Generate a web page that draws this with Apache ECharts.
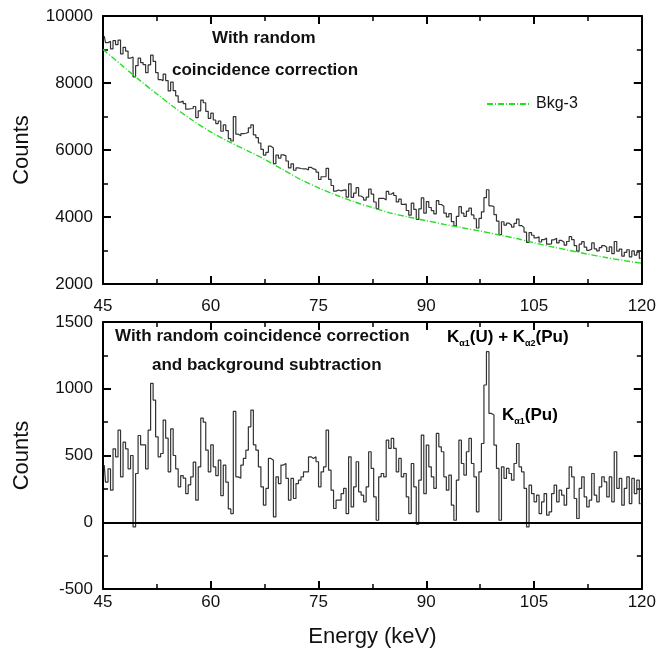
<!DOCTYPE html>
<html>
<head>
<meta charset="utf-8">
<script src="https://cdn.jsdelivr.net/npm/echarts@6/dist/echarts.min.js"></script>
<style>
html, body { margin: 0; padding: 0; background: #fff; }
#chart { width: 659px; height: 654px; }
</style>
</head>
<body>
<div id="chart"></div>
<script>
// spectrum channels, 45 - 120 keV
const eMin = 45
const eMax = 120

// top panel: with random coincidence correction
const rawCounts = [
  9397, 9206, 9243, 9020, 9267, 9145, 9282, 8869, 9066, 8954,
  8741, 8778, 8180, 8517, 8740, 8610, 8550, 8310, 8540, 8830,
  8645, 8310, 8103, 8071, 8264, 8072, 7763, 8028, 7770, 7616,
  7428, 7460, 7387, 7219, 7231, 7238, 7299, 6967, 7170, 7488,
  7411, 7154, 6945, 7100, 6895, 6790, 6865, 6560, 6748, 6580,
  6339, 6268, 6997, 6471, 6425, 6487, 6501, 6524, 6661, 6748,
  6450, 6372, 6209, 6021, 5848, 5931, 6114, 6059, 5592, 5850,
  5758, 5854, 5825, 5671, 5466, 5587, 5395, 5465, 5448, 5437,
  5440, 5405, 5482, 5435, 5412, 5340, 5120, 5202, 5208, 5452,
  5121, 4940, 4772, 4806, 4778, 4800, 4810, 4594, 4991, 4588,
  4712, 4876, 4627, 4578, 4504, 4592, 4831, 4683, 4448, 4251,
  4554, 4557, 4510, 4763, 4679, 4734, 4642, 4450, 4533, 4378,
  4386, 4194, 4055, 4415, 4225, 3930, 4245, 4568, 4115, 4461,
  4283, 4193, 4091, 4488, 4373, 4321, 4116, 4002, 4101, 3862,
  3735, 4021, 4307, 4118, 4017, 4178, 4264, 4062, 3948, 3672,
  3958, 4155, 4578, 4813, 4335, 4308, 4068, 3878, 3473, 3858,
  3756, 3816, 3763, 3698, 3808, 3938, 3745, 3690, 3547, 3241,
  3536, 3455, 3375, 3408, 3253, 3324, 3369, 3190, 3198, 3320,
  3368, 3228, 3300, 3248, 3158, 3268, 3413, 3323, 3146, 2981,
  3191, 3263, 3098, 3005, 3041, 3227, 3051, 2987, 3085, 3146,
  3095, 2970, 3107, 2907, 3269, 2981, 3043, 2830, 2946, 3022,
  2811, 2988, 2864, 2953, 2767
]

// bottom panel: after background subtraction
const netCounts = [
  428, 300, 400, 240, 550, 490, 690, 340, 600, 550,
  400, 500, -35, 365, 650, 580, 580, 400, 690, 1040,
  915, 640, 490, 515, 765, 630, 378, 700, 500, 400,
  265, 350, 330, 215, 280, 340, 450, 165, 415, 780,
  750, 540, 378, 580, 415, 350, 465, 200, 428, 300,
  100, 65, 830, 340, 330, 428, 478, 540, 715, 840,
  580, 540, 415, 265, 128, 253, 478, 465, 40, 340,
  290, 428, 440, 328, 165, 328, 178, 290, 315, 340,
  378, 378, 490, 478, 490, 453, 265, 378, 415, 690,
  390, 240, 103, 165, 165, 215, 253, 65, 490, 115,
  265, 453, 228, 203, 153, 265, 528, 403, 190, 15,
  340, 365, 340, 615, 553, 628, 553, 378, 478, 340,
  365, 190, 65, 440, 265, -15, 315, 653, 215, 578,
  415, 340, 253, 665, 565, 528, 340, 240, 353, 128,
  15, 315, 615, 440, 353, 528, 628, 440, 340, 78,
  378, 590, 1028, 1278, 815, 803, 578, 403, 15, 415,
  328, 403, 365, 315, 440, 590, 415, 378, 253, -35,
  278, 215, 153, 203, 65, 153, 215, 53, 78, 215,
  278, 153, 240, 203, 128, 253, 415, 340, 178, 28,
  253, 340, 190, 115, 165, 365, 203, 153, 265, 340,
  303, 190, 340, 153, 528, 253, 328, 128, 253, 340,
  140, 328, 215, 315, 140
]

// Bkg-3 curve
const bkgEnergy = [45, 47.5, 50, 52.5, 55, 57.5, 60, 62.5, 65, 67.5, 70, 72.5, 75, 77.5, 80,
  82.5, 85, 87.5, 90, 92.5, 95, 97.5, 100, 102.5, 105, 107.5, 110, 112.5, 115, 117.5, 120]
const bkgCounts = [9000, 8550, 8100, 7670, 7260, 6880, 6540, 6250, 5990, 5720, 5420, 5120, 4870, 4650, 4450,
  4280, 4120, 4000, 3890, 3780, 3680, 3580, 3470, 3360, 3230, 3110, 3000, 2890, 2790, 2700, 2620]

const xTicks = [45, 60, 75, 90, 105, 120]
const yTicksTop = [2000, 4000, 6000, 8000, 10000]
const yTicksBottom = [-500, 0, 500, 1000, 1500]

const font = 'Liberation Sans, Arial, sans-serif'
const binWidth = (eMax - eMin) / netCounts.length
const toPairs = arr => arr.map((v, i) => [eMin + (i + 0.5) * binWidth, v])

function xAxis(grid, pos, show, margin) {
  return {
    type: 'value', gridIndex: grid, position: pos,
    min: xTicks[0], max: xTicks[xTicks.length - 1], interval: xTicks[1] - xTicks[0],
    axisLine: { show: true, onZero: false, lineStyle: { color: '#000', width: 2 } },
    axisTick: { show: true, inside: true, length: 8, lineStyle: { color: '#000', width: 2 } },
    minorTick: { show: true, splitNumber: 2, length: 5, lineStyle: { color: '#000', width: 1.5 } },
    splitLine: { show: false },
    axisLabel: { show: show, margin: margin, fontSize: 17, color: '#111', fontFamily: font }
  }
}

function yAxis(grid, pos, ticks, show) {
  return {
    type: 'value', gridIndex: grid, position: pos,
    min: ticks[0], max: ticks[ticks.length - 1], interval: ticks[1] - ticks[0],
    axisLine: { show: true, onZero: false, lineStyle: { color: '#000', width: 2 } },
    axisTick: { show: true, inside: true, length: 8, lineStyle: { color: '#000', width: 2 } },
    minorTick: { show: true, splitNumber: 2, length: 5, lineStyle: { color: '#000', width: 1.5 } },
    splitLine: { show: false },
    axisLabel: { show: show, margin: 10, fontSize: 17, color: '#111', fontFamily: font, formatter: v => String(v) },
    name: show ? 'Counts' : '',
    nameLocation: 'middle',
    nameGap: 70,
    nameMoveOverlap: false,
    nameTextStyle: { fontSize: 22, color: '#111', fontFamily: font }
  }
}

const chart = echarts.init(document.getElementById('chart'))

const boldText = { fontSize: 17, fontWeight: 'bold', fill: '#111', fontFamily: font }
const kRich = {
  k: { fontSize: 17, fontWeight: 'bold', fontFamily: font, color: '#111' },
  s: { fontSize: 9, fontWeight: 'bold', fontFamily: font, color: '#111', padding: [12, 0, 0, 0] }
}

const bottomX = xAxis(1, 'bottom', true, 5)
bottomX.name = 'Energy (keV)'
bottomX.nameLocation = 'middle'
bottomX.nameGap = 37
bottomX.nameTextStyle = { fontSize: 22, color: '#111', fontFamily: font }

chart.setOption({
  animation: false,
  backgroundColor: '#fff',
  grid: [
    { left: 103, right: 16, top: 16, height: 268 },
    { left: 103, right: 16, top: 322, height: 267 }
  ],
  xAxis: [
    xAxis(0, 'bottom', true, 14),
    xAxis(0, 'top', false, 0),
    bottomX,
    xAxis(1, 'top', false, 0)
  ],
  yAxis: [
    yAxis(0, 'left', yTicksTop, true),
    yAxis(0, 'right', yTicksTop, false),
    yAxis(1, 'left', yTicksBottom, true),
    yAxis(1, 'right', yTicksBottom, false)
  ],
  legend: {
    data: ['Bkg-3'],
    left: 481, top: 91,
    itemWidth: 44, itemHeight: 14, itemGap: 5,
    itemStyle: { opacity: 0 },
    textStyle: { fontSize: 16, color: '#111', fontFamily: font }
  },
  series: [
    {
      name: 'raw', type: 'line', xAxisIndex: 0, yAxisIndex: 0,
      step: 'middle', symbol: 'none',
      lineStyle: { color: '#333', width: 1.2 },
      data: toPairs(rawCounts)
    },
    {
      name: 'Bkg-3', type: 'line', xAxisIndex: 0, yAxisIndex: 0,
      symbol: 'none', smooth: 0.3,
      lineStyle: { color: '#22e022', width: 1.4, type: [6, 2, 1, 2] },
      itemStyle: { color: '#22e022' },
      data: bkgEnergy.map((e, i) => [e, bkgCounts[i]])
    },
    {
      name: 'net', type: 'line', xAxisIndex: 2, yAxisIndex: 2,
      step: 'middle', symbol: 'none',
      lineStyle: { color: '#333', width: 1.2 },
      data: toPairs(netCounts),
      markLine: {
        silent: true, symbol: 'none', label: { show: false },
        lineStyle: { color: '#000', width: 2, type: 'solid' },
        data: [{ yAxis: 0 }]
      }
    }
  ],
  graphic: [
    { type: 'text', left: 212, top: 30, style: Object.assign({ text: 'With random' }, boldText) },
    { type: 'text', left: 172, top: 62, style: Object.assign({ text: 'coincidence correction' }, boldText) },
    { type: 'text', left: 115, top: 328, style: Object.assign({ text: 'With random coincidence correction' }, boldText) },
    { type: 'text', left: 152, top: 357, style: Object.assign({ text: 'and background subtraction' }, boldText) },
    { type: 'text', left: 447, top: 329, style: { text: '{k|K}{s|α1}{k|(U) + K}{s|α2}{k|(Pu)}', rich: kRich } },
    { type: 'text', left: 502, top: 407, style: { text: '{k|K}{s|α1}{k|(Pu)}', rich: kRich } }
  ]
})
</script>
</body>
</html>
